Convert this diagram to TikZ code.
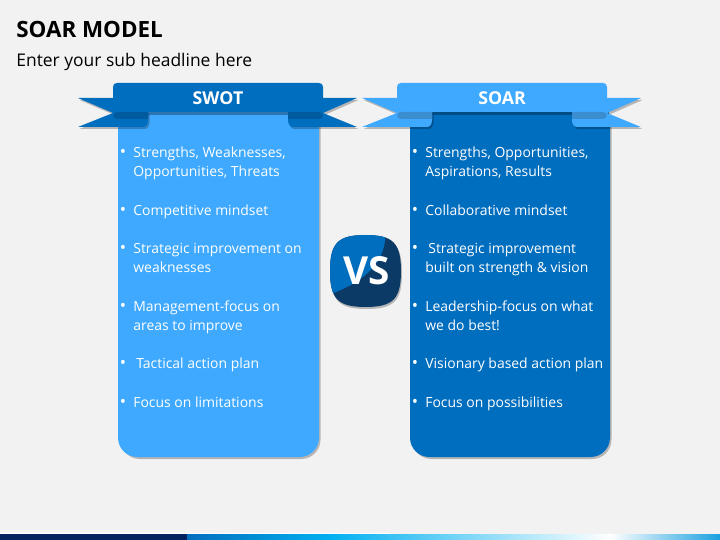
\documentclass[tikz,border=0pt]{standalone}
\usepackage{fontspec}
\setmainfont{Open Sans}
\usetikzlibrary{calc}
\definecolor{pagegrey}{HTML}{F2F2F2}
\definecolor{lightblue}{HTML}{3FA9FF}
\definecolor{midblue}{HTML}{006EBE}
\definecolor{nightblue}{HTML}{0B3A66}
\definecolor{navyblue}{HTML}{002060}
\definecolor{skyblue}{HTML}{00B0F0}
\definecolor{endblue}{HTML}{1BA0E0}
\definecolor{foldlight}{HTML}{3A8ECF}
\definecolor{folddark}{HTML}{005A9E}
\tikzset{
  bodytext/.style={anchor=base west,inner sep=0pt,text=white,
    font=\fontsize{7.94}{11}\selectfont},
  dottext/.style={anchor=base,inner sep=0pt,text=white,font=\fontsize{9.5}{11}\selectfont},
  headtext/.style={anchor=base,inner sep=0pt,text=white,font=\fontsize{10.1}{12}\selectfont\bfseries},
  softshade/.style={fill=black,opacity=0.25}
}
% ribbon with its band, tails and folds: #1 left edge of band, #2 colour, #3 fold colour
\newcommand{\ribbon}[3]{
  \begin{scope}[shift={(#1,0)}]
    \def\lefttail{(-35,98) -- (0,98) -- (35,112) -- (35,120) .. controls (35,124) and (33,127) .. (30,127)
      -- (-35,127) -- (0,113) -- cycle}
    \def\righttail{(244,98) -- (210,98) -- (175,112) -- (175,120) .. controls (175,124) and (177,127) .. (180,127)
      -- (244,127) -- (210,113) -- cycle}
    \fill [softshade,shift={(1.5,2)}] \lefttail;
    \fill [softshade,shift={(1.5,2)}] \righttail;
    \fill [#2] \lefttail;
    \fill [#2] \righttail;
    \fill [#2] (0,112) -- (0,87) .. controls (0,84.5) and (1.5,83) .. (4,83) -- (206,83)
      .. controls (208.5,83) and (210,84.5) .. (210,87) -- (210,112) -- cycle;
    \fill [#3] (4,112) .. controls (-1,112) and (-1,119) .. (4,119) -- (35,119) -- (35,112) -- cycle;
    \fill [#3] (206,112) .. controls (211,112) and (211,119) .. (206,119) -- (175,119) -- (175,112) -- cycle;
  \end{scope}
}
\begin{document}
\begin{tikzpicture}[x=0.02cm,y=-0.02cm]
  \useasboundingbox (0,0) rectangle (720,540);
  \fill [pagegrey] (0,0) rectangle (720,540);
  % footer strip
  \fill [white] (0,533) rectangle (390,534);
  \fill [left color=midblue,right color=skyblue] (187,534) rectangle (330,540);
  \fill [left color=skyblue,right color=white] (330,534) rectangle (610,540);
  \fill [left color=white,right color=endblue] (610,534) rectangle (720,540);
  \fill [navyblue] (0,534) rectangle (187,540);
  % headline
  \node [anchor=base west,inner sep=0pt,font=\fontsize{12.75}{15}\selectfont\bfseries] (title) at (16,37.5) {SOAR MODEL};
  \node [anchor=base west,inner sep=0pt,font=\fontsize{9.93}{12}\selectfont] (subtitle) at (16,66.5) {Enter your sub headline here};
  % panels
  \fill [black,opacity=0.25,rounded corners=11pt] (120.5,104) rectangle (320.5,459);
  \fill [black,opacity=0.25,rounded corners=11pt] (412,104) rectangle (611.5,459);
  \fill [lightblue,rounded corners=11pt] (118,100) rectangle (319,457);
  \fill [midblue,rounded corners=11pt] (410,100) rectangle (610,457);
  \fill [black,opacity=0.3] (148,112) rectangle (288,115);
  \fill [black,opacity=0.3] (432,112) rectangle (572,115);
  \ribbon{113}{midblue}{folddark}
  \ribbon{397}{lightblue}{foldlight}
  \node [headtext] (swot) at (218,104.5) {SWOT};
  \node [headtext] (soar) at (502,104.5) {SOAR};
  % left column
  \node [dottext] (ld1) at (123,158) {•};
  \node [bodytext] (lt1a) at (133,158) {Strengths, Weaknesses,};
  \node [bodytext] (lt1b) at (133,177) {Opportunities, Threats};
  \node [dottext] (ld2) at (123,215.5) {•};
  \node [bodytext] (lt2) at (133,215.5) {Competitive mindset};
  \node [dottext] (ld3) at (123,254) {•};
  \node [bodytext] (lt3a) at (133,254) {Strategic improvement on};
  \node [bodytext] (lt3b) at (133,273) {weaknesses};
  \node [dottext] (ld4) at (123,311.5) {•};
  \node [bodytext] (lt4a) at (133,311.5) {Management-focus on};
  \node [bodytext] (lt4b) at (133,330.5) {areas to improve};
  \node [dottext] (ld5) at (123,369) {•};
  \node [bodytext] (lt5) at (136,369) {Tactical action plan};
  \node [dottext] (ld6) at (123,407) {•};
  \node [bodytext] (lt6) at (133,407) {Focus on limitations};
  % right column
  \node [dottext] (rd1) at (415,158) {•};
  \node [bodytext] (rt1a) at (425,158) {Strengths, Opportunities,};
  \node [bodytext] (rt1b) at (425,177) {Aspirations, Results};
  \node [dottext] (rd2) at (415,215.5) {•};
  \node [bodytext] (rt2) at (425,215.5) {Collaborative mindset};
  \node [dottext] (rd3) at (415,254) {•};
  \node [bodytext] (rt3a) at (428,254) {Strategic improvement};
  \node [bodytext] (rt3b) at (425,273) {built on strength \& vision};
  \node [dottext] (rd4) at (415,311.5) {•};
  \node [bodytext] (rt4a) at (425,311.5) {Leadership-focus on what};
  \node [bodytext] (rt4b) at (425,330.5) {we do best!};
  \node [dottext] (rd5) at (415,369) {•};
  \node [bodytext] (rt5) at (425,369) {Visionary based action plan};
  \node [dottext] (rd6) at (415,407) {•};
  \node [bodytext] (rt6) at (425,407) {Focus on possibilities};
  % vs badge
  \def\badge{(330,271) .. controls (330,243) and (338,235) .. (365.5,235)
    .. controls (393,235) and (401,243) .. (401,271)
    .. controls (401,299) and (393,307) .. (365.5,307)
    .. controls (338,307) and (330,299) .. (330,271) -- cycle}
  \fill [black,opacity=0.25,shift={(1,2)}] \badge;
  \fill [nightblue] \badge;
  \begin{scope}
    \clip \badge;
    \fill [midblue] (325,230) -- (385,230) .. controls (388,258) and (368,282) .. (325,296) -- cycle;
  \end{scope}
  \node [inner sep=0pt,text=white,font=\fontsize{22}{24}\selectfont\bfseries] (vs) at (366.5,271) {VS};
\end{tikzpicture}
\end{document}
